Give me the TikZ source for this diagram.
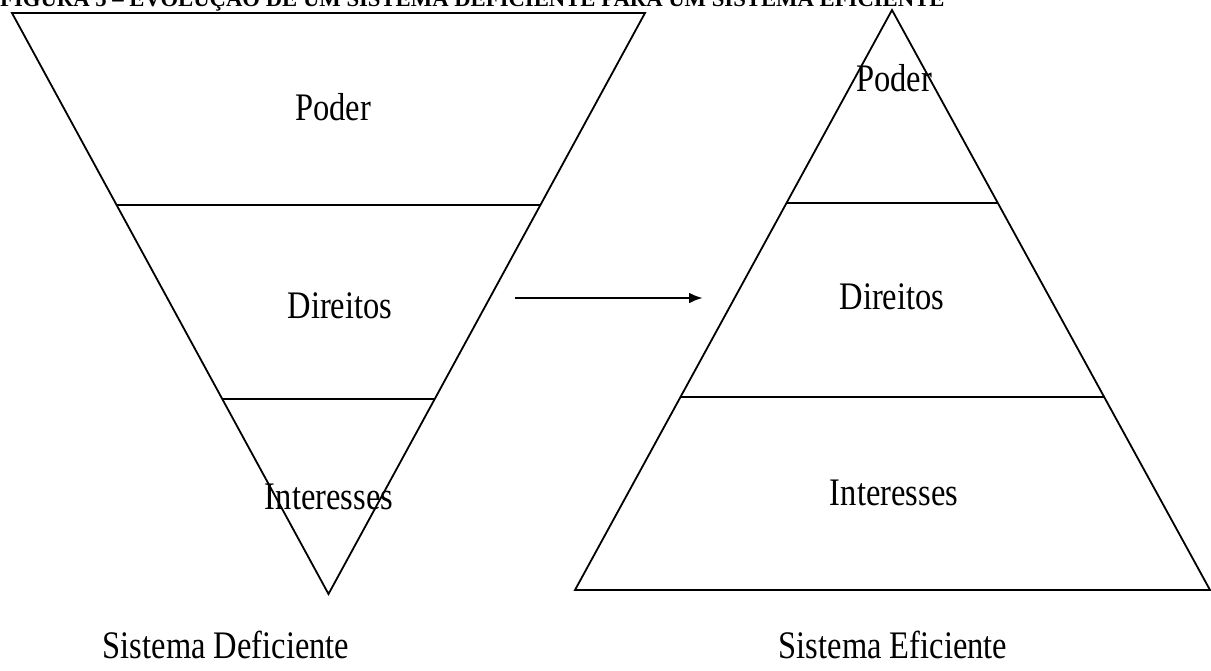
\documentclass[tikz,border=0pt]{standalone}
\usepackage{fontspec}
\setmainfont{Liberation Serif}
\usetikzlibrary{arrows.meta}
\newcommand{\tallt}[1]{\scalebox{1}[1.2]{#1}}
\begin{document}
\begin{tikzpicture}[x=1pt,y=-1pt,
  edge/.style={line width=1.8pt,line join=miter},
  lbl/.style={font=\fontsize{32.5}{40}\selectfont,inner sep=0pt},
  ttl/.style={font=\fontsize{22.7}{26}\selectfont\bfseries,inner sep=0pt,anchor=base west}]
\useasboundingbox (0,0) rectangle (1211,670);
\fill[white] (0,0) rectangle (1211,670);
% title (clipped at the top edge)
\node[ttl] (title) at (0,6) {FIGURA 5 – EVOLUÇÃO DE UM SISTEMA DEFICIENTE PARA UM SISTEMA EFICIENTE};
% left inverted triangle
\coordinate (LA) at (12,13);
\coordinate (LB) at (645,13);
\coordinate (LC) at (328.5,594);
\draw[edge] (LA) -- (LB) -- (LC) -- cycle;
\coordinate (L1a) at (117,205); \coordinate (L1b) at (540,205);
\coordinate (L2a) at (222,399); \coordinate (L2b) at (435,399);
\draw[edge] (L1a) -- (L1b);
\draw[edge] (L2a) -- (L2b);
% right triangle
\coordinate (RA) at (892,10);
\coordinate (RB) at (575,590);
\coordinate (RC) at (1210,590);
\draw[edge] (RA) -- (RB) -- (RC) -- cycle;
\coordinate (R1a) at (786,203); \coordinate (R1b) at (998,203);
\coordinate (R2a) at (680,397); \coordinate (R2b) at (1104,397);
\draw[edge] (R1a) -- (R1b);
\draw[edge] (R2a) -- (R2b);
% arrow
\coordinate (arrS) at (515,298);
\coordinate (arrE) at (703,298);
\draw[line width=2.8pt,-{Latex[length=14pt,width=11pt]}] (arrS) -- (arrE);
% labels
\node[lbl] (lp) at (333,107) {\tallt{Poder}};
\node[lbl] (ld) at (340,306) {\tallt{Direitos}};
\node[lbl] (li) at (329,497) {\tallt{Interesses}};
\node[lbl] (rp) at (894,78) {\tallt{Poder}};
\node[lbl] (rd) at (892,297) {\tallt{Direitos}};
\node[lbl] (ri) at (894,493) {\tallt{Interesses}};
\node[lbl] (cl) at (226,645) {\tallt{Sistema Deficiente}};
\node[lbl] (cr) at (893,645) {\tallt{Sistema Eficiente}};
\end{tikzpicture}
\end{document}
